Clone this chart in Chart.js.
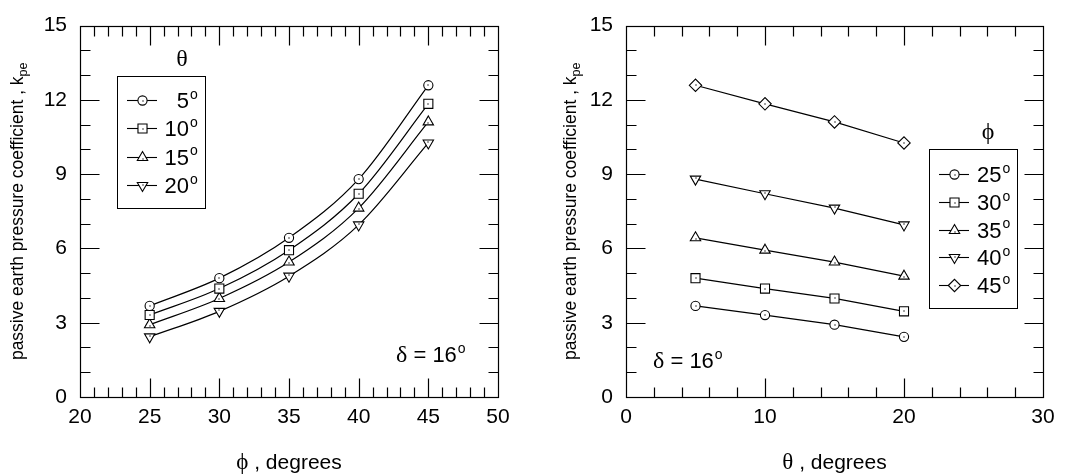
<!DOCTYPE html>
<html>
<head>
<meta charset="utf-8">
<script src="https://cdn.jsdelivr.net/npm/chart.js@4/dist/chart.umd.min.js"></script>
<style>
  html, body { margin: 0; padding: 0; background: #fff; }
  #wrap { position: relative; width: 1075px; height: 475px; overflow: hidden; }
  .panel { position: absolute; top: 0; height: 475px; }
</style>
</head>
<body>
<div id="wrap">
  <div class="panel" style="left:0;width:537px"><canvas id="byPhi"></canvas></div>
  <div class="panel" style="left:537px;width:538px"><canvas id="byTheta"></canvas></div>
</div>
<script>
// Passive earth pressure coefficient k_pe, wall friction delta = 16 deg
const phiValues = [25, 30, 35, 40, 45];          // soil friction angle, degrees
const thetaValues = [5, 10, 15, 20];             // theta, degrees
const kpeTheta5  = [3.68, 4.80, 6.43, 8.80, 12.59];
const kpeTheta10 = [3.31, 4.38, 5.93, 8.21, 11.84];
const kpeTheta15 = [2.92, 3.98, 5.45, 7.63, 11.11];
const kpeTheta20 = [2.43, 3.46, 4.88, 6.95, 10.26];
const phiTickLabels = [20, 25, 30, 35, 40, 45, 50];
const thetaTickLabels = [0, 10, 20, 30];
const kpeTickLabels = [0, 3, 6, 9, 12, 15];

const kpeByTheta = [kpeTheta5, kpeTheta10, kpeTheta15, kpeTheta20];

const SANS = '"Liberation Sans", Arial, sans-serif';
const SERIF = '"Liberation Serif", "Times New Roman", serif';

// open marker styles: circle, square, triangle, inverted triangle, diamond
const markerStyles = [
  { pointStyle: 'circle',   radius: 4.6, rotation: 0 },
  { pointStyle: 'rect',     radius: 6.4, rotation: 0 },
  { pointStyle: 'triangle', radius: 6.0, rotation: 0 },
  { pointStyle: 'triangle', radius: 6.0, rotation: 180 },
  { pointStyle: 'rectRot',  radius: 6.2, rotation: 0 }
];

function markerProps(m) {
  return {
    pointStyle: m.pointStyle,
    pointRadius: m.radius,
    pointRotation: m.rotation,
    pointBackgroundColor: '#fff',
    pointBorderColor: '#000',
    pointBorderWidth: 1.1
  };
}

// ---- text helpers ----
function textWithDegree(ctx, base, x, y, size, align) {
  ctx.font = size + 'px ' + SANS;
  const wBase = ctx.measureText(base).width;
  const supSize = Math.round(size * 0.62);
  let x0 = x;
  if (align === 'right') x0 = x - wBase;            // numbers aligned on their right edge
  ctx.textAlign = 'left';
  ctx.textBaseline = 'alphabetic';
  ctx.font = size + 'px ' + SANS;
  ctx.fillText(base, x0, y);
  ctx.font = supSize + 'px ' + SANS;
  ctx.fillText('o', x0 + wBase + 1, y - size * 0.42);
}

// ---- small dot in the centre of every marker ----
const centreDots = {
  id: 'centreDots',
  afterDatasetsDraw(chart) {
    const ctx = chart.ctx;
    ctx.save();
    ctx.fillStyle = '#000';
    chart.data.datasets.forEach((ds, i) => {
      const meta = chart.getDatasetMeta(i);
      const dy = ds.pointRotation === 180 ? -1 : (ds.pointStyle === 'triangle' ? 1 : 0);
      meta.data.forEach(pt => {
        ctx.fillRect(Math.round(pt.x) - 0.6, Math.round(pt.y + dy) - 0.6, 1.2, 1.2);
      });
    });
    ctx.restore();
  }
};

// ---- frame with inward ticks on all four sides ----
const frameTicks = {
  id: 'frameTicks',
  afterDatasetsDraw(chart, args, o) {
    const ctx = chart.ctx, a = chart.chartArea;
    const xs = chart.scales.x, ys = chart.scales.y;
    const L = Math.round(a.left) + 0.5, R = Math.round(a.right) + 0.5;
    const T = Math.round(a.top) + 0.5, B = Math.round(a.bottom) + 0.5;
    ctx.save();
    ctx.strokeStyle = '#000';
    ctx.lineWidth = 1.2;
    ctx.beginPath();
    for (let v = xs.min; v <= xs.max + 1e-9; v += o.xMinor) {
      if (v === xs.min || Math.abs(v - xs.max) < 1e-9) continue;
      const p = Math.round(xs.getPixelForValue(v)) + 0.5;
      const len = Math.abs(v % o.xMajor) < 1e-9 ? o.major : o.minor;
      ctx.moveTo(p, B); ctx.lineTo(p, B - len);
      ctx.moveTo(p, T); ctx.lineTo(p, T + len);
    }
    for (let v = ys.min; v <= ys.max + 1e-9; v += o.yMinor) {
      if (v === ys.min || Math.abs(v - ys.max) < 1e-9) continue;
      const p = Math.round(ys.getPixelForValue(v)) + 0.5;
      const len = Math.abs(v % o.yMajor) < 1e-9 ? o.major : o.minor;
      ctx.moveTo(L, p); ctx.lineTo(L + len, p);
      ctx.moveTo(R, p); ctx.lineTo(R - len, p);
    }
    ctx.stroke();
    ctx.strokeRect(L, T, R - L, B - T);
    ctx.restore();
  }
};

// legend marker, same geometry as the chart's point styles
function legendMarker(ctx, m, x, y) {
  if (Chart.helpers && Chart.helpers.drawPoint) {
    ctx.save();
    ctx.fillStyle = '#fff';
    ctx.strokeStyle = '#000';
    ctx.lineWidth = 1.1;
    Chart.helpers.drawPoint(ctx, { pointStyle: m.pointStyle, rotation: m.rotation, radius: m.radius, borderWidth: 1.1 }, x, y);
    ctx.restore();
  }
  const dy = m.rotation === 180 ? -1 : (m.pointStyle === 'triangle' ? 1 : 0);
  ctx.fillStyle = '#000';
  ctx.fillRect(Math.round(x) - 0.6, Math.round(y + dy) - 0.6, 1.2, 1.2);
}

// ---- axis titles, legend box and delta note ----
const decorations = {
  id: 'decorations',
  afterDraw(chart, args, o) {
    const ctx = chart.ctx, a = chart.chartArea;
    ctx.save();
    ctx.fillStyle = '#000';

    // x title: greek symbol + ", degrees"
    const cx = (a.left + a.right) / 2;
    ctx.font = '23px ' + SERIF;
    const wG = ctx.measureText(o.xSymbol).width;
    ctx.font = '21px ' + SANS;
    const rest = ' , degrees';
    const wR = ctx.measureText(rest).width;
    let x0 = cx - (wG + wR) / 2;
    ctx.textBaseline = 'alphabetic';
    ctx.textAlign = 'left';
    ctx.font = '23px ' + SERIF;
    ctx.fillText(o.xSymbol, x0, o.xTitleY);
    ctx.font = '21px ' + SANS;
    ctx.fillText(rest, x0 + wG, o.xTitleY);

    // y title, rotated, with subscript "pe"
    ctx.save();
    ctx.translate(o.yTitleX, (a.top + a.bottom) / 2);
    ctx.rotate(-Math.PI / 2);
    const main = 'passive earth pressure coefficient , k';
    ctx.font = '17.5px ' + SANS;
    const wM = ctx.measureText(main).width;
    ctx.font = '12.5px ' + SANS;
    const wS = ctx.measureText('pe').width;
    const s0 = -(wM + wS) / 2;
    ctx.font = '17.5px ' + SANS;
    ctx.fillText(main, s0, 6);
    ctx.font = '12.5px ' + SANS;
    ctx.fillText('pe', s0 + wM, 10);
    ctx.restore();

    // legend
    const lg = o.legend;
    ctx.font = '24px ' + SERIF;
    ctx.textAlign = 'center';
    ctx.textBaseline = 'middle';
    ctx.fillText(lg.title, lg.titleX, lg.titleY);
    ctx.strokeStyle = '#000';
    ctx.lineWidth = 1;
    ctx.strokeRect(lg.box[0] + 0.5, lg.box[1] + 0.5, lg.box[2], lg.box[3]);
    lg.labels.forEach((lab, i) => {
      const y = lg.rowY0 + i * lg.rowStep;
      const yy = Math.round(y) + 0.5;
      ctx.strokeStyle = '#000';
      ctx.lineWidth = 1.1;
      ctx.beginPath();
      ctx.moveTo(lg.lineX0, yy); ctx.lineTo(lg.lineX1, yy);
      ctx.stroke();
      legendMarker(ctx, lg.markers[i], Math.round((lg.lineX0 + lg.lineX1) / 2) + 0.5, yy);
      ctx.fillStyle = '#000';
      textWithDegree(ctx, String(lab), lg.textX, y + 8, 22, lg.textAlign);
    });

    // delta note
    ctx.fillStyle = '#000';
    ctx.font = '24px ' + SERIF;
    ctx.textAlign = 'left';
    ctx.textBaseline = 'alphabetic';
    ctx.fillText('\u03B4', o.deltaX, o.deltaY);
    const wd = ctx.measureText('\u03B4').width;
    textWithDegree(ctx, ' = 16', o.deltaX + wd, o.deltaY, 22, 'left');
    ctx.restore();
  }
};

function baseOptions(cfg) {
  return {
    responsive: true,
    maintainAspectRatio: false,
    animation: false,
    layout: { padding: { left: 0, right: cfg.padRight, top: 16, bottom: 0 } },
    plugins: {
      legend: { display: false },
      tooltip: { enabled: false },
      frameTicks: cfg.frame,
      decorations: cfg.deco
    },
    scales: {
      x: {
        type: 'linear',
        min: cfg.xTicks[0],
        max: cfg.xTicks[cfg.xTicks.length - 1],
        afterBuildTicks: s => { s.ticks = cfg.xTicks.map(v => ({ value: v })); },
        afterFit: s => { s.height = 78; },
        grid: { display: false, drawTicks: false },
        border: { display: false },
        ticks: { color: '#000', font: { family: SANS, size: 21 }, padding: 8, maxRotation: 0 }
      },
      y: {
        type: 'linear',
        min: kpeTickLabels[0],
        max: kpeTickLabels[kpeTickLabels.length - 1],
        afterBuildTicks: s => { s.ticks = kpeTickLabels.map(v => ({ value: v })); },
        afterFit: s => { s.width = cfg.yWidth; },
        grid: { display: false, drawTicks: false },
        border: { display: false },
        ticks: { color: '#000', font: { family: SANS, size: 21 }, padding: 13 }
      }
    }
  };
}

// k_pe against phi, one curve per theta
new Chart(document.getElementById('byPhi'), {
  type: 'line',
  data: {
    datasets: thetaValues.map((t, i) => Object.assign({
      label: t + '\u00B0',
      data: phiValues.map((p, j) => ({ x: p, y: kpeByTheta[i][j] })),
      borderColor: '#000',
      borderWidth: 1.2,
      tension: 0.4,
      cubicInterpolationMode: 'monotone',
      fill: false
    }, markerProps(markerStyles[i])))
  },
  options: baseOptions({
    padRight: 39,
    yWidth: 80,
    xTicks: phiTickLabels,
    frame: { xMinor: 1, xMajor: 5, yMinor: 1, yMajor: 3, minor: 10, major: 19 },
    deco: {
      xSymbol: '\u03D5',
      xTitleY: 469,
      yTitleX: 17,
      legend: {
        title: '\u03B8', titleX: 182, titleY: 60,
        box: [117, 76, 88, 132],
        labels: thetaValues,
        markers: markerStyles.slice(0, 4),
        rowY0: 100, rowStep: 28.3,
        lineX0: 127, lineX1: 157,
        textX: 189, textAlign: 'right'
      },
      deltaX: 396, deltaY: 362
    }
  }),
  plugins: [centreDots, frameTicks, decorations]
});

// k_pe against theta, one line per phi
new Chart(document.getElementById('byTheta'), {
  type: 'line',
  data: {
    datasets: phiValues.map((p, j) => Object.assign({
      label: p + '\u00B0',
      data: thetaValues.map((t, i) => ({ x: t, y: kpeByTheta[i][j] })),
      borderColor: '#000',
      borderWidth: 1.2,
      tension: 0,
      fill: false
    }, markerProps(markerStyles[j])))
  },
  options: baseOptions({
    padRight: 32,
    yWidth: 89,
    xTicks: thetaTickLabels,
    frame: { xMinor: 2, xMajor: 10, yMinor: 1, yMajor: 3, minor: 10, major: 19 },
    deco: {
      xSymbol: '\u03B8',
      xTitleY: 469,
      yTitleX: 33,
      legend: {
        title: '\u03D5', titleX: 451, titleY: 133,
        box: [392, 149, 88, 159],
        labels: phiValues,
        markers: markerStyles,
        rowY0: 174, rowStep: 27.8,
        lineX0: 402, lineX1: 432,
        textX: 440, textAlign: 'left'
      },
      deltaX: 116, deltaY: 368
    }
  }),
  plugins: [centreDots, frameTicks, decorations]
});
</script>
</body>
</html>
